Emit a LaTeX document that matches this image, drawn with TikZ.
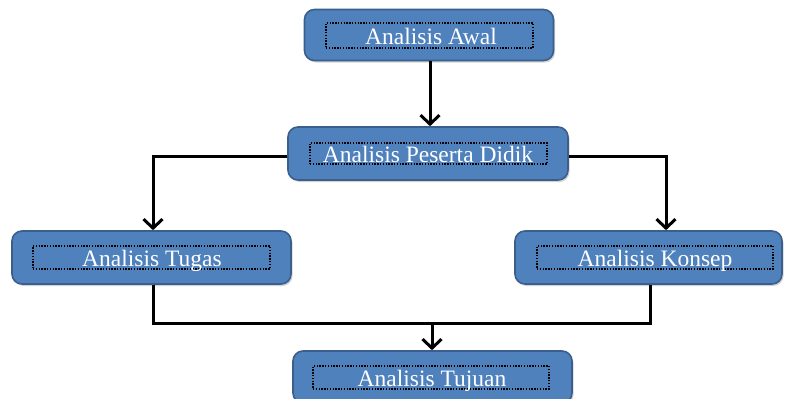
\documentclass[tikz,border=0pt]{standalone}
\usepackage{fontspec}
\setmainfont{Liberation Serif}
\usetikzlibrary{arrows.meta,shadows,calc}
\definecolor{boxfill}{HTML}{4F81BD}
\definecolor{boxline}{HTML}{3A5F8C}
\tikzset{
  box/.style={draw=boxline, line width=1.6pt, fill=boxfill, rounded corners=10pt,
    drop shadow={shadow xshift=1.5pt, shadow yshift=-2pt, opacity=.35}, inner sep=0pt},
  frame/.style={draw=black, line width=1.4pt, dash pattern=on 1.4pt off 1.4pt,
    preaction={draw=white, line width=1.4pt}, inner sep=0pt},
  txt/.style={text=white, font=\fontsize{23.5}{23.5}\selectfont, inner sep=0pt, anchor=base},
  conn/.style={line width=3pt, draw=black},
  arr/.style={conn, -{Straight Barb[length=9pt, width=19pt, line width=3pt]}},
}
\begin{document}
\begin{tikzpicture}[x=1pt, y=-1pt]
\useasboundingbox (0,0) rectangle (785,399);
\fill[white] (0,0) rectangle (785,399);
% boxes
\node[box, minimum width=249pt, minimum height=51pt] (a) at (429,35) {};
\node[box, minimum width=280pt, minimum height=53pt] (b) at (428,153.5) {};
\node[box, minimum width=279pt, minimum height=53pt] (c) at (151.5,257.5) {};
\node[box, minimum width=267pt, minimum height=53pt] (d) at (648.5,257.5) {};
\node[box, minimum width=279pt, minimum height=52pt] (e) at (432.5,377) {};
% dotted text frames
\node[frame, minimum width=207pt, minimum height=25pt] (fa) at (429.5,35.5) {};
\node[frame, minimum width=237pt, minimum height=21pt] (fb) at (428.5,153.5) {};
\node[frame, minimum width=237pt, minimum height=23pt] (fc) at (151.5,257.5) {};
\node[frame, minimum width=236pt, minimum height=23pt] (fd) at (655,257.5) {};
\node[frame, minimum width=236pt, minimum height=23pt] (fe) at (431,377.5) {};
% texts
\node[txt] (ta) at (431,44.5) {Analisis Awal};
\node[txt] (tb) at (428,162) {Analisis Peserta Didik};
\node[txt] (tc) at (152,266.5) {Analisis Tugas};
\node[txt] (td) at (655,266.5) {Analisis Konsep};
\node[txt] (te) at (432,386.5) {Analisis Tujuan};
% connectors
\coordinate (top) at (430,0);
\draw[arr] (top |- a.south) -- (top |- b.north);
\coordinate (bl) at (153,156);
\coordinate (br) at (666,156);
\draw[arr] (b.west |- bl) -- (bl) -- (bl |- c.north);
\draw[arr] (b.east |- br) -- (br) -- (br |- d.north);
\coordinate (m) at (432,323);
\coordinate (dr) at (650,0);
\draw[conn] (c.south -| bl) -- (bl |- m) -- (m) -- (m -| dr) -- (dr |- d.south);
\draw[arr] (m) -- (m |- e.north);
\end{tikzpicture}
\end{document}
